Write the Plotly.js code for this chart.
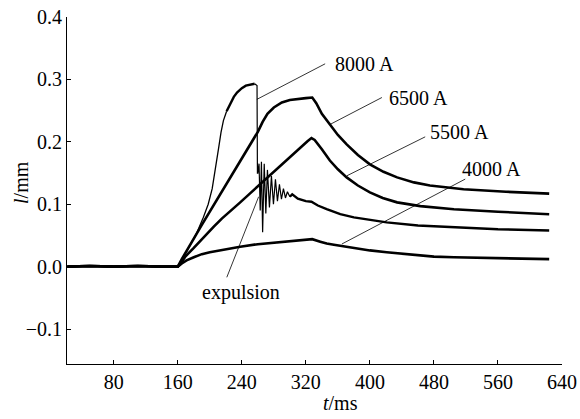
<!DOCTYPE html>
<html>
<head>
<meta charset="utf-8">
<script src="https://cdn.plot.ly/plotly-3.0.1.min.js"></script>
<style>html,body{margin:0;padding:0;background:#fff;}#chart{width:580px;height:419px;}</style>
</head>
<body>
<div id="chart"></div>
<script>
// Time (ms) and indentation/displacement l (mm)
const t4000 = [22, 50, 80, 110, 140, 160, 165, 171, 180, 190, 200, 215, 238, 260, 290, 313, 328, 338, 346, 355, 365, 380, 400, 421, 450, 480, 505, 540, 580, 624];
const l4000 = [0, 0.001, 0, 0.001, 0, 0, 0.005, 0.010, 0.015, 0.020, 0.023, 0.027, 0.032, 0.036, 0.040, 0.042, 0.044, 0.040, 0.037, 0.035, 0.033, 0.029, 0.026, 0.023, 0.019, 0.016, 0.015, 0.014, 0.013, 0.012];

const t5500 = [22, 50, 80, 110, 140, 160, 165, 170, 180, 192, 205, 215, 225, 238, 250, 261, 280, 300, 315, 322, 327, 331, 340, 350, 360, 371, 385, 400, 416, 434, 463, 505, 560, 624];
const l5500 = [0, 0.001, 0, 0.001, 0, 0, 0.008, 0.017, 0.030, 0.047, 0.064, 0.077, 0.089, 0.103, 0.117, 0.130, 0.151, 0.175, 0.193, 0.201, 0.206, 0.203, 0.188, 0.170, 0.156, 0.143, 0.130, 0.119, 0.110, 0.103, 0.097, 0.092, 0.088, 0.084];

const t6500 = [22, 50, 80, 110, 140, 160, 165, 171, 180, 190, 200, 210, 220, 230, 240, 250, 260, 266, 272, 280, 290, 300, 310, 320, 328, 333, 340, 350, 360, 371, 385, 400, 417, 434, 455, 475, 517, 570, 624];
const l6500 = [0, 0.001, 0, 0.001, 0, 0, 0.012, 0.026, 0.045, 0.067, 0.088, 0.109, 0.131, 0.152, 0.173, 0.195, 0.216, 0.232, 0.245, 0.255, 0.263, 0.267, 0.269, 0.270, 0.271, 0.262, 0.245, 0.228, 0.211, 0.196, 0.179, 0.164, 0.152, 0.143, 0.135, 0.130, 0.124, 0.120, 0.117];

const t8000 = [22, 50, 80, 110, 140, 160, 163, 168, 175, 183, 192, 198, 203, 207, 211, 214, 217, 221, 225, 230, 234, 240, 245, 250, 256, 259, 259.5, 260, 261.5, 263, 264.5, 266, 268, 270, 272, 274.5, 277, 279.5, 282, 284.5, 287, 289.5, 292, 294.5, 297, 300, 303, 310, 320, 327, 335, 346, 363, 380, 400, 421, 460, 505, 560, 624];
const l8000 = [0, 0.001, 0, 0.001, 0, 0, 0.006, 0.018, 0.034, 0.052, 0.079, 0.100, 0.125, 0.155, 0.190, 0.215, 0.234, 0.249, 0.260, 0.272, 0.279, 0.286, 0.290, 0.291, 0.293, 0.290, 0.150, 0.150, 0.165, 0.090, 0.168, 0.055, 0.165, 0.085, 0.155, 0.095, 0.145, 0.100, 0.140, 0.105, 0.132, 0.108, 0.125, 0.110, 0.120, 0.112, 0.116, 0.109, 0.105, 0.104, 0.098, 0.092, 0.084, 0.079, 0.075, 0.071, 0.066, 0.063, 0.060, 0.058];

const xTicks = [80, 160, 240, 320, 400, 480, 560, 640];
const yTicks = [-0.1, 0.0, 0.1, 0.2, 0.3, 0.4];
const seriesNames = ['4000 A', '5500 A', '6500 A', '8000 A'];

const FONT = 'Liberation Serif';

// 8000 A curve drawn in pieces: thin rise, thick plateau, thin expulsion, thick tail
function idx(arr, v) { return arr.indexOf(v); }
const cut1 = idx(t8000, 221), cut2 = idx(t8000, 256), cut3 = idx(t8000, 300);
function seg(a, b, w) {
  return {x: t8000.slice(a, b + 1), y: l8000.slice(a, b + 1), name: seriesNames[3], mode: 'lines', line: {color: '#000', width: w}};
}

const traces = [
  {x: t4000, y: l4000, name: seriesNames[0], mode: 'lines', line: {color: '#000', width: 2.6}},
  {x: t5500, y: l5500, name: seriesNames[1], mode: 'lines', line: {color: '#000', width: 2.6}},
  {x: t6500, y: l6500, name: seriesNames[2], mode: 'lines', line: {color: '#000', width: 2.6}},
  seg(0, cut1, 1.3),
  seg(cut1, cut2, 2.4),
  seg(cut2, cut3, 1.2),
  seg(cut3, t8000.length - 1, 2.4)
];

function leader(x0, y0, x1, y1) {
  return {type: 'line', xref: 'x', yref: 'y', x0: x0, y0: y0, x1: x1, y1: y1, line: {color: '#000', width: 0.8}};
}
function label(text, x, y) {
  return {text: text, xref: 'x', yref: 'y', x: x, y: y, xanchor: 'left', yanchor: 'middle', showarrow: false, font: {family: FONT, size: 20, color: '#000'}};
}

const layout = {
  width: 580, height: 419,
  margin: {l: 67, r: 18, t: 17, b: 55},
  paper_bgcolor: '#fff', plot_bgcolor: '#fff',
  showlegend: false,
  font: {family: FONT, size: 20, color: '#000'},
  xaxis: {
    range: [21.6, 640], tickvals: xTicks, ticks: 'inside', ticklen: 4, tickcolor: '#000',
    showline: true, linecolor: '#000', linewidth: 1, showgrid: false, zeroline: false,
    tickfont: {family: FONT, size: 20, color: '#000'}
  },
  yaxis: {
    range: [-0.156, 0.4], tickvals: yTicks, tickformat: '.1f', ticks: 'inside', ticklen: 4, tickcolor: '#000',
    showline: true, linecolor: '#000', linewidth: 1, showgrid: false, zeroline: false,
    tickfont: {family: FONT, size: 20, color: '#000'}
  },
  shapes: [
    leader(258.75, 0.268, 344.1, 0.325),
    leader(350.4, 0.228, 415, 0.271),
    leader(371.25, 0.1456, 469.1, 0.208),
    leader(365, 0.0363, 519.1, 0.1403),
    leader(221.25, -0.0171, 261, 0.112)
  ],
  annotations: [
    label(seriesNames[3], 353.8, 0.325),
    label(seriesNames[2], 421.3, 0.271),
    label(seriesNames[1], 472.9, 0.216),
    label(seriesNames[0], 512.9, 0.157),
    {text: 'expulsion', xref: 'x', yref: 'y', x: 238.9, y: -0.041, xanchor: 'center', yanchor: 'middle', showarrow: false, font: {family: FONT, size: 20, color: '#000'}},
    {text: '<i>t</i>/ms', xref: 'paper', yref: 'paper', x: 0.552, y: -0.113, xanchor: 'center', yanchor: 'middle', showarrow: false, font: {family: FONT, size: 20, color: '#000'}},
    {text: '<i>l</i>/mm', xref: 'paper', yref: 'paper', x: -0.093, y: 0.5245, xanchor: 'center', yanchor: 'middle', textangle: -90, showarrow: false, font: {family: FONT, size: 20, color: '#000'}}
  ]
};

Plotly.newPlot('chart', traces, layout, {displayModeBar: false, staticPlot: true});
</script>
</body>
</html>
